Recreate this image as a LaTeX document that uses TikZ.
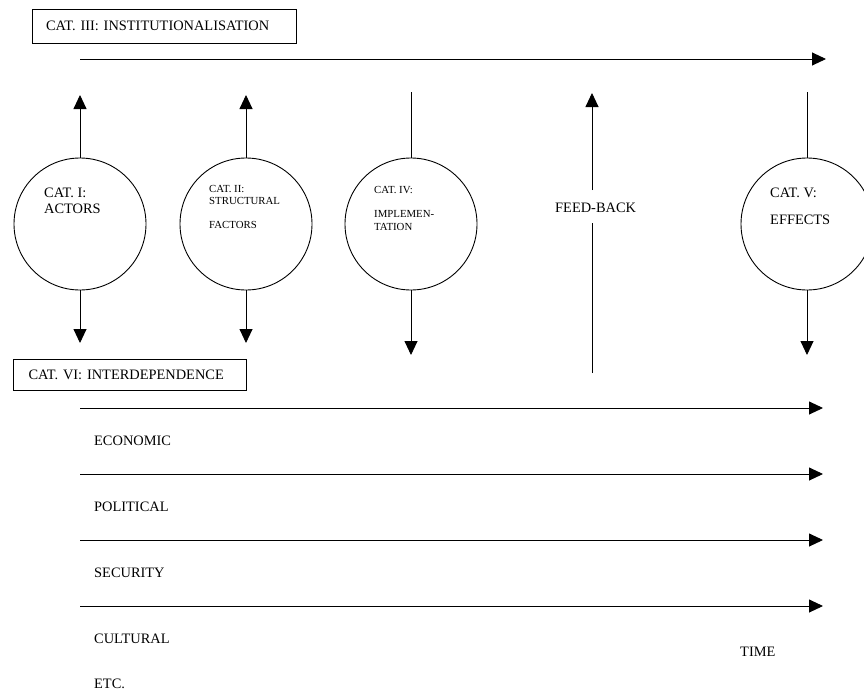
\documentclass[tikz,border=0pt]{standalone}
\usepackage{fontspec}
\setmainfont{Liberation Serif}
\usetikzlibrary{arrows.meta}
\begin{document}
\begin{tikzpicture}[x=1pt,y=-1pt,
  ln/.style={line width=0.9pt},
  arr/.style={line width=0.9pt,-{Triangle[length=14pt,width=13pt]}},
  cat/.style={circle,draw,line width=0.9pt,minimum size=132pt,inner sep=0pt},
  big/.style={font=\fontsize{14.4}{16}\selectfont, inner sep=0pt, anchor=base west},
  small/.style={font=\fontsize{10.8}{12}\selectfont, inner sep=0pt, anchor=base west},
  boxlab/.style={draw,line width=0.9pt,font=\fontsize{14.4}{16}\selectfont,align=left,inner xsep=14pt,inner ysep=0pt}]
\useasboundingbox (0,0) rectangle (864,696);
\clip (0,0) rectangle (864,696);

% boxes
\node (b3) [boxlab, minimum width=264pt, minimum height=34pt, text width=236pt] at (164,26) {CAT. III: INSTITUTIONALISATION};
\node (b6) [boxlab, minimum width=232pt, minimum height=31pt, text width=203pt, inner xsep=15pt] at (130,374.5) {CAT. VI: INTERDEPENDENCE};

% top time arrow
\coordinate (ta) at (80,59);
\coordinate (tb) at (826,59);
\draw[arr] (ta) -- (tb);

% circles
\node (c1) [cat] at (80,224) {};
\node (c2) [cat] at (246,224) {};
\node (c4) [cat] at (411,224) {};
\node (c5) [cat] at (807,224) {};

% circle texts
\node (l1a) [big] at (44,197) {CAT. I:};
\node (l1b) [big] at (44,213) {ACTORS};
\node (l2a) [small] at (209,192) {CAT. II:};
\node (l2b) [small] at (209,204) {STRUCTURAL};
\node (l2c) [small] at (209,228) {FACTORS};
\node (l4a) [small] at (374,193) {CAT. IV:};
\node (l4b) [small] at (374,217) {IMPLEMEN-};
\node (l4c) [small] at (374,230) {TATION};
\node (l5a) [big] at (770,197) {CAT. V:};
\node (l5b) [big] at (770,224) {EFFECTS};

% circle arrows
\coordinate (u1) at (80,95);
\coordinate (d1) at (80,343);
\draw[arr] (c1.north) -- (u1);
\draw[arr] (c1.south) -- (d1);
\coordinate (u2) at (246,95);
\coordinate (d2) at (246,343);
\draw[arr] (c2.north) -- (u2);
\draw[arr] (c2.south) -- (d2);
\coordinate (s4) at (411,92);
\coordinate (d4) at (411,355);
\draw[ln] (s4) -- (c4.north);
\draw[arr] (c4.south) -- (d4);
\coordinate (s5) at (807,92);
\coordinate (d5) at (807,355);
\draw[ln] (s5) -- (c5.north);
\draw[arr] (c5.south) -- (d5);

% feed-back
\node (fb) [big] at (555,212) {FEED-BACK};
\coordinate (fbt) at (592,93);
\coordinate (fbu) at (592,190);
\coordinate (fbl) at (592,223);
\coordinate (fbb) at (592,373);
\draw[arr] (fbu) -- (fbt);
\draw[ln] (fbb) -- (fbl);

% interdependence arrows
\coordinate (h1a) at (80,408); \coordinate (h1b) at (823,408);
\coordinate (h2a) at (80,474); \coordinate (h2b) at (823,474);
\coordinate (h3a) at (80,540); \coordinate (h3b) at (823,540);
\coordinate (h4a) at (80,606); \coordinate (h4b) at (823,606);
\draw[arr] (h1a) -- (h1b);
\draw[arr] (h2a) -- (h2b);
\draw[arr] (h3a) -- (h3b);
\draw[arr] (h4a) -- (h4b);

% labels
\node (eco) [big] at (94,445) {ECONOMIC};
\node (pol) [big] at (94,511) {POLITICAL};
\node (sec) [big] at (94,577) {SECURITY};
\node (cul) [big] at (94,643) {CULTURAL};
\node (etc) [big] at (94,688) {ETC.};
\node (time) [big] at (740,656) {TIME};
\end{tikzpicture}
\end{document}
